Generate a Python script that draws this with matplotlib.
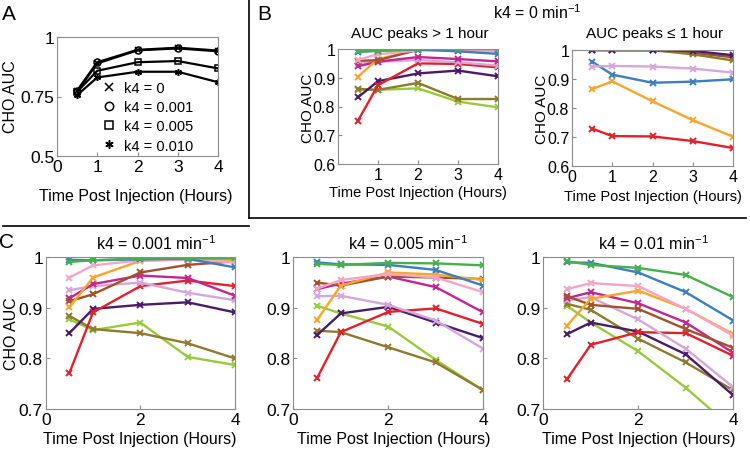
import matplotlib
matplotlib.use('Agg')
import matplotlib.pyplot as plt
from matplotlib.lines import Line2D

plt.rcParams['font.family'] = ['Liberation Sans', 'DejaVu Sans']
plt.rcParams['mathtext.fontset'] = 'custom'
plt.rcParams['mathtext.rm'] = 'Liberation Sans'

W, H = 750, 452

hours = [0.5, 1, 2, 3, 4]

# Panel A: average AUC for each k4 value
k4_labels = ['k4 = 0', 'k4 = 0.001', 'k4 = 0.005', 'k4 = 0.010']
auc_k4_0 = [0.772, 0.889, 0.944, 0.952, 0.940]
auc_k4_001 = [0.775, 0.894, 0.946, 0.955, 0.943]
auc_k4_005 = [0.770, 0.858, 0.894, 0.899, 0.868]
auc_k4_010 = [0.756, 0.830, 0.854, 0.854, 0.810]

BLUE = '#3b7ec2'
GREEN = '#47b04b'
PINK = '#f6a5c8'
ORANGE = '#fba52c'
BROWN = '#a0522d'
MAGENTA = '#c4268f'
LAVENDER = '#d7a6db'
RED = '#e4202a'
PURPLE = '#4a1b6c'
OLIVE = '#8f7b2e'
LIME = '#98cb3c'

# Panel B, k4 = 0, AUC peaks > 1 hour
b_late_colors = [LIME, OLIVE, PURPLE, RED, LAVENDER, MAGENTA, ORANGE, BROWN, PINK, BLUE, GREEN]
b_late_values = [
    [0.858, 0.858, 0.863, 0.817, 0.797],
    [0.861, 0.858, 0.882, 0.826, 0.826],
    [0.832, 0.888, 0.915, 0.925, 0.905],
    [0.751, 0.874, 0.950, 0.948, 0.936],
    [0.952, 0.955, 0.962, 0.954, 0.942],
    [0.940, 0.956, 0.972, 0.965, 0.957],
    [0.904, 0.965, 0.997, 1.000, 1.000],
    [0.959, 0.961, 0.997, 0.998, 0.995],
    [0.962, 0.982, 0.995, 0.996, 0.994],
    [0.990, 0.994, 0.998, 0.992, 0.983],
    [0.992, 0.993, 1.000, 1.000, 1.000],
]

# Panel B, k4 = 0, AUC peaks <= 1 hour
b_early_colors = [RED, ORANGE, BLUE, LAVENDER, BROWN, OLIVE, PURPLE]
b_early_values = [
    [0.729, 0.703, 0.702, 0.686, 0.662],
    [0.865, 0.892, 0.823, 0.758, 0.701],
    [0.960, 0.915, 0.887, 0.891, 0.899],
    [0.943, 0.945, 0.943, 0.936, 0.922],
    [1.000, 0.999, 0.999, 0.990, 0.975],
    [1.000, 1.000, 1.000, 0.985, 0.964],
    [1.000, 1.000, 1.000, 0.997, 0.982],
]

# Panel C, one list per k4 value, same colour order
c_colors = [LIME, OLIVE, PURPLE, RED, LAVENDER, MAGENTA, BROWN, ORANGE, PINK, BLUE, GREEN]
c_k4_001 = [
    [0.877, 0.856, 0.871, 0.803, 0.787],
    [0.884, 0.858, 0.850, 0.830, 0.800],
    [0.850, 0.898, 0.906, 0.911, 0.891],
    [0.771, 0.891, 0.943, 0.954, 0.943],
    [0.935, 0.943, 0.950, 0.930, 0.915],
    [0.919, 0.947, 0.964, 0.959, 0.924],
    [0.913, 0.927, 0.970, 0.985, 0.992],
    [0.901, 0.960, 0.993, 0.996, 0.995],
    [0.960, 0.984, 0.994, 0.995, 0.990],
    [0.995, 0.994, 0.996, 0.997, 0.980],
    [0.991, 0.994, 0.998, 0.998, 0.998],
]
c_k4_005 = [
    [0.904, 0.889, 0.863, 0.797, 0.737],
    [0.855, 0.852, 0.822, 0.792, 0.737],
    [0.846, 0.889, 0.902, 0.871, 0.840],
    [0.761, 0.852, 0.892, 0.899, 0.868],
    [0.923, 0.924, 0.906, 0.875, 0.819],
    [0.937, 0.948, 0.962, 0.941, 0.891],
    [0.950, 0.944, 0.962, 0.960, 0.957],
    [0.876, 0.944, 0.970, 0.966, 0.955],
    [0.938, 0.955, 0.967, 0.960, 0.931],
    [0.990, 0.986, 0.985, 0.975, 0.944],
    [0.987, 0.985, 0.989, 0.988, 0.984],
]
c_k4_010 = [
    [0.904, 0.871, 0.814, 0.742, 0.660],
    [0.908, 0.896, 0.839, 0.792, 0.737],
    [0.848, 0.871, 0.853, 0.808, 0.727],
    [0.759, 0.827, 0.852, 0.850, 0.805],
    [0.915, 0.921, 0.877, 0.819, 0.743],
    [0.919, 0.931, 0.909, 0.871, 0.811],
    [0.923, 0.906, 0.898, 0.858, 0.821],
    [0.865, 0.918, 0.934, 0.898, 0.848],
    [0.937, 0.949, 0.943, 0.898, 0.845],
    [0.990, 0.989, 0.970, 0.931, 0.875],
    [0.992, 0.985, 0.979, 0.965, 0.921],
]

SPINE = '#8c8c8c'


def px_axes(fig, x0, x1, yt, yb):
    ax = fig.add_axes([x0 / W, 1 - yb / H, (x1 - x0) / W, (yb - yt) / H])
    for s in ax.spines.values():
        s.set_color(SPINE)
        s.set_linewidth(0.8)
    ax.tick_params(direction='in', length=3, color=SPINE, labelsize=12.5, pad=2)
    return ax


def ptext(fig, x, y, s, **kw):
    kw.setdefault('ha', 'center')
    kw.setdefault('va', 'center')
    fig.text(x / W, 1 - y / H, s, **kw)


def plot_lines(ax, colors, values):
    for col, vals in zip(colors, values):
        ax.plot(hours, vals, color=col, lw=1.7, marker='x', ms=4, mew=1.4)


fig = plt.figure(figsize=(W / 100, H / 100), dpi=100)

# ---- Panel A
axA = px_axes(fig, 57, 218, 38, 157)
markers = ['x', 'o', 's', (6, 2, 0)]
for vals, m in zip([auc_k4_0, auc_k4_001, auc_k4_005, auc_k4_010], markers):
    axA.plot(hours, vals, color='black', lw=1.6, marker=m, ms=5, mew=1.1,
             mfc='none' if m in ('o', 's') else 'black')
axA.set_xlim(0, 4)
axA.set_ylim(0.5, 1)
axA.set_xticks([0, 1, 2, 3, 4])
axA.set_yticks([0.5, 0.75, 1])
axA.set_yticklabels(['0.5', '0.75', '1'])
handles = [Line2D([], [], color='black', ls='none', marker=m, ms=6, mew=1.1,
                  mfc='none' if m in ('o', 's') else 'black') for m in markers]
axA.legend(handles, k4_labels, loc='lower left', bbox_to_anchor=(0.25, -0.02),
           frameon=False, fontsize=10.5, handlelength=0.8, handletextpad=0.6,
           labelspacing=0.35, borderaxespad=0)
ptext(fig, 136, 197, 'Time Post Injection (Hours)', fontsize=11.5)
ptext(fig, 11, 97, 'CHO AUC', fontsize=11.5, rotation=90)

# ---- Panel B
axB1 = px_axes(fig, 338, 498, 50, 165)
plot_lines(axB1, b_late_colors, b_late_values)
axB1.set_xlim(0, 4)
axB1.set_ylim(0.6, 1)
axB1.set_xticks([1, 2, 3, 4])
axB1.set_yticks([0.6, 0.7, 0.8, 0.9, 1])
axB1.set_yticklabels(['0.6', '0.7', '0.8', '0.9', '1'])
axB1.tick_params(labelsize=11.5)

axB2 = px_axes(fig, 572, 733, 51, 167)
plot_lines(axB2, b_early_colors, b_early_values)
axB2.set_xlim(0, 4)
axB2.set_ylim(0.6, 1)
axB2.set_xticks([0, 1, 2, 3, 4])
axB2.set_yticks([0.6, 0.7, 0.8, 0.9, 1])
axB2.set_yticklabels(['0.6', '0.7', '0.8', '0.9', '1'])
axB2.tick_params(labelsize=11.5)

ptext(fig, 537, 13, r'k4 = 0 min$^{\mathregular{-1}}$', fontsize=11.5)
ptext(fig, 420, 34, 'AUC peaks > 1 hour', fontsize=11)
ptext(fig, 655, 34, 'AUC peaks \u2264 1 hour', fontsize=11)
ptext(fig, 418, 193, 'Time Post Injection (Hours)', fontsize=10.5)
ptext(fig, 653, 197, 'Time Post Injection (Hours)', fontsize=10.5)
ptext(fig, 308, 108, 'CHO AUC', fontsize=11, rotation=90)
ptext(fig, 542, 109, 'CHO AUC', fontsize=11, rotation=90)

# ---- Panel C
c_boxes = [(45.7, 235), (293.3, 483.3), (543.3, 733.3)]
c_titles = ['k4 = 0.001 min$^{\\mathregular{-1}}$', 'k4 = 0.005 min$^{\\mathregular{-1}}$',
            'k4 = 0.01 min$^{\\mathregular{-1}}$']
c_title_x = [156, 408, 653]
c_xlabel_x = [140, 394, 639]
for (x0, x1), vals, title, tx, lx in zip(c_boxes, [c_k4_001, c_k4_005, c_k4_010],
                                         c_titles, c_title_x, c_xlabel_x):
    ax = px_axes(fig, x0, x1, 258.3, 410)
    plot_lines(ax, c_colors, vals)
    ax.set_xlim(0, 4)
    ax.set_ylim(0.7, 1)
    ax.set_xticks([0, 2, 4])
    ax.set_yticks([0.7, 0.8, 0.9, 1])
    ax.set_yticklabels(['0.7', '0.8', '0.9', '1'])
    ptext(fig, tx, 244, title, fontsize=11.5)
    ptext(fig, lx, 440, 'Time Post Injection (Hours)', fontsize=11.5)
ptext(fig, 12, 334, 'CHO AUC', fontsize=11.5, rotation=90)

# panel letters and dividers
ptext(fig, 9, 15, 'A', fontsize=15)
ptext(fig, 264, 15, 'B', fontsize=15)
ptext(fig, 6, 242, 'C', fontsize=15)
fig.add_artist(Line2D([249 / W, 249 / W], [1, 1 - 219 / H], color='black', lw=1.2,
                      transform=fig.transFigure))
fig.add_artist(Line2D([3 / W, 249 / W], [1 - 227 / H, 1 - 227 / H], color='black', lw=1.2,
                      transform=fig.transFigure))
fig.add_artist(Line2D([249 / W, 746 / W], [1 - 219 / H, 1 - 219 / H], color='black', lw=1.2,
                      transform=fig.transFigure))

fig.savefig('out.png', dpi=100)
